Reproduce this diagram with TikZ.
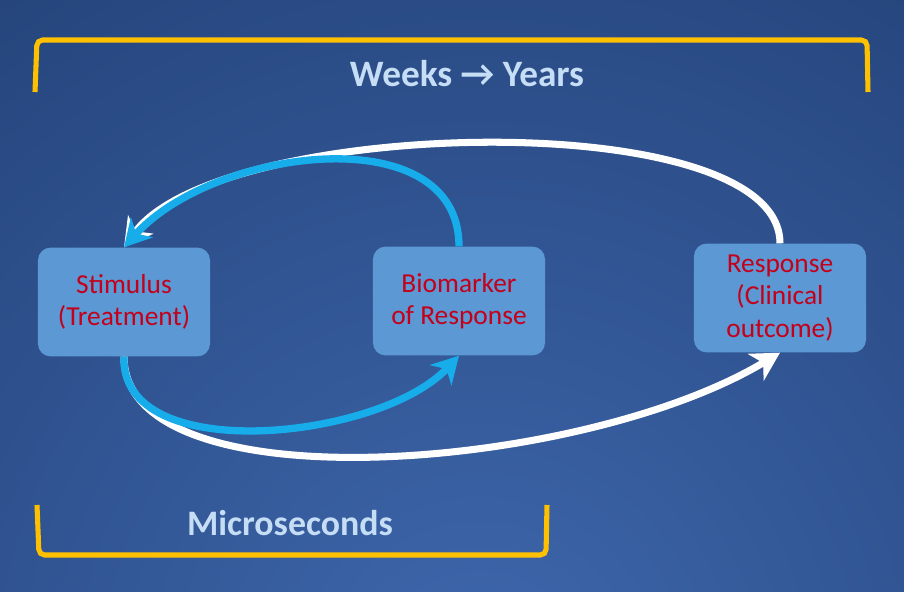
\documentclass[tikz,border=0pt]{standalone}
\usepackage{fontspec}
\setmainfont{Carlito}
\usetikzlibrary{arrows.meta}
\definecolor{bgdark}{HTML}{24437A}
\definecolor{bglight}{HTML}{3E67AC}
\definecolor{boxfill}{HTML}{5B98D4}
\definecolor{boxtext}{HTML}{C4001A}
\definecolor{headtext}{HTML}{C6DDF6}
\definecolor{bracket}{HTML}{FFC000}
\definecolor{loopblue}{HTML}{17ACEA}

\begin{document}
\begin{tikzpicture}[x=0.025cm,y=-0.025cm,
  stage/.style={draw=none,fill=boxfill,rounded corners=9pt,minimum width=4.3cm,
    minimum height=2.72cm,align=center,text=boxtext,font=\fontsize{19.5}{23}\selectfont},
  scale label/.style={text=headtext,font=\bfseries\fontsize{26.5}{31}\selectfont},
  timebar/.style={draw=bracket,line width=3.6pt,rounded corners=4pt},
  slowloop/.style={draw=white,line width=5pt,-{Stealth[length=20pt,width=22pt,inset=6pt]}},
  fastloop/.style={draw=loopblue,line width=5.2pt,-{Stealth[length=19pt,width=21pt,inset=6pt]}}]
\useasboundingbox (0,0) rectangle (904,592);
\fill[bgdark] (0,0) rectangle (904,592);
\begin{scope}
\clip (0,0) rectangle (904,592);
\shade[inner color=bglight,outer color=bgdark] (480,680) circle (22cm);
\end{scope}

\draw[timebar] (35,92)--(37,40)--(867,40)--(868,92);
\draw[timebar] (37,505)--(39,555)--(546,555)--(547,505);
\node[scale label] (weeks) at (467,74) {Weeks \textrightarrow\ Years};
\node[scale label,font=\bfseries\fontsize{25.5}{30}\selectfont] (micro) at (290,523) {Microseconds};

\node[stage] (stim) at (124,302) {Stimulus\\(Treatment)};
\node[stage] (bio) at (459,301) {Biomarker\\of Response};
\node[stage] (resp) at (780,298) {Response\\(Clinical\\outcome)};

%slow loop, weeks to years
\draw[slowloop] (resp.north) .. controls +(0,-140) and +(95,-130) .. (stim.north);
\draw[slowloop] (stim.south) .. controls +(0,150) and +(-200,120) .. (resp.south);
%fast loop, microseconds
\draw[fastloop] (bio.north) .. controls +(0,-130) and +(90,-100) .. (stim.north);
\draw[fastloop] (stim.south) .. controls +(-4,110) and +(-80,85) .. (bio.south);
\end{tikzpicture}
\end{document}
